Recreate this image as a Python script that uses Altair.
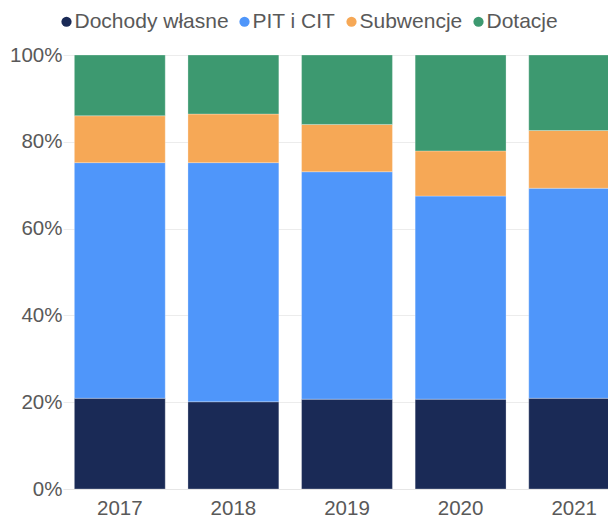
import altair as alt
import pandas as pd

years = ["2017", "2018", "2019", "2020", "2021"]
series = ["Dochody własne", "PIT i CIT", "Subwencje", "Dotacje"]
dochody = [20.9, 20.1, 20.7, 20.7, 20.9]
pit_cit = [54.3, 55.1, 52.4, 46.8, 48.4]
subwencje = [10.8, 11.2, 10.9, 10.4, 13.3]
dotacje = [14.0, 13.6, 16.0, 22.1, 17.4]
colors = ["#1a2a56", "#4f96fa", "#f6a856", "#3d9970"]

rows = []
for i, y in enumerate(years):
    for k, (name, vals) in enumerate(zip(series, [dochody, pit_cit, subwencje, dotacje])):
        rows.append({"rok": y, "kategoria": name, "wartosc": vals[i], "ord": k})
df = pd.DataFrame(rows)

font = "Liberation Sans"
label_color = "#595959"

chart = alt.Chart(df).mark_bar(
    clip=True, stroke="white", strokeWidth=0.8, strokeOpacity=0.35
).encode(
    x=alt.X("rok:N", sort=years, title=None,
            scale=alt.Scale(paddingInner=0.2, paddingOuter=0.1, range=[0, 568]),
            axis=alt.Axis(labelAngle=0, labelFontSize=20.5, labelColor=label_color, labelFont=font,
                          ticks=False, domainColor="#e6e6e6", labelPadding=9, grid=False)),
    y=alt.Y("wartosc:Q", stack="normalize", title=None,
            scale=alt.Scale(domain=[0, 1]),
            axis=alt.Axis(format=".0%", values=[0, 0.2, 0.4, 0.6, 0.8, 1.0], labelFontSize=20.5,
                          labelColor=label_color, labelFont=font, ticks=False, domain=False,
                          labelPadding=1, gridColor="#ececec")),
    color=alt.Color("kategoria:N", scale=alt.Scale(domain=series, range=colors),
                    legend=alt.Legend(title=None, orient="none", direction="horizontal",
                                      legendX=-7, legendY=-44, symbolType="circle", symbolSize=105,
                                      labelFontSize=21, labelColor=label_color, labelFont=font,
                                      labelOffset=alt.ExprRef("-2.5"), columnPadding=5,
                                      symbolStrokeWidth=0)),
    order=alt.Order("ord:Q", sort="ascending"),
).properties(
    width=545, height=434,
    autosize=alt.AutoSizeParams(type="none"),
    padding={"left": 55, "top": 47, "right": 0, "bottom": 29},
).configure_view(stroke=None)

chart.save("out.html", embed_options={"renderer": "svg", "actions": False})
